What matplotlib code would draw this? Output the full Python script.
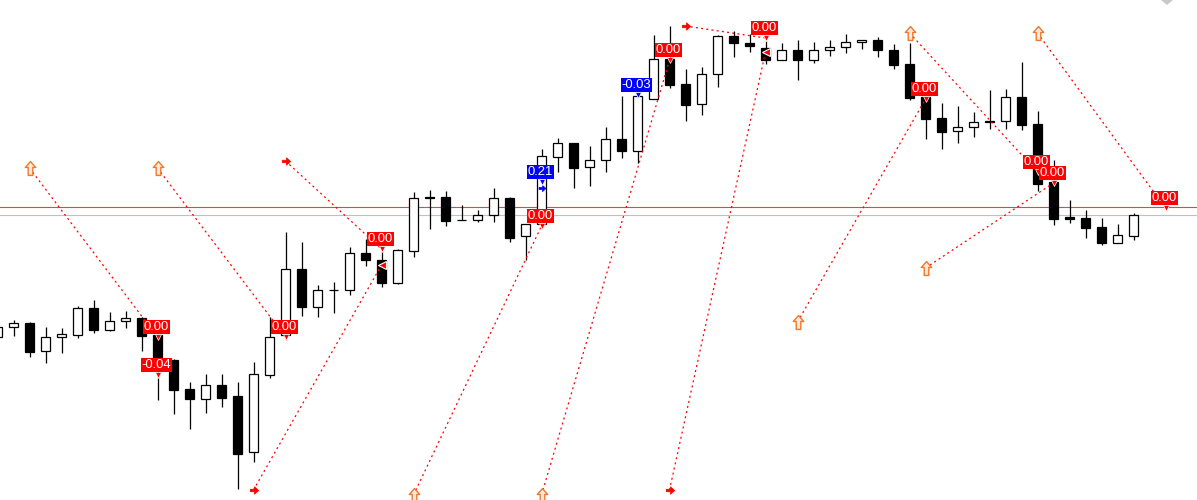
import matplotlib
matplotlib.use('Agg')
import matplotlib.pyplot as plt
from matplotlib.path import Path
from matplotlib.patches import Polygon

# ---------------- candle data (price units, arbitrary scale) ----------------
opens = [163, 172.7, 176.7, 148.7, 162.7, 165, 191.7, 170.3, 178.7, 181.7,
         164.7, 140, 110.7, 101.3, 115, 104, 47.7, 125.3, 165, 230.7,
         192.7, 209.7, 209.7, 246.7, 239.7, 217.3, 248.7, 303, 302.7, 279.7,
         279.7, 284.7, 301.7, 263.7, 276, 343, 356.7, 332.7, 339.7, 361,
         348.7, 401.3, 440.7, 416, 395.7, 425.7, 464.3, 457, 451.7, 439.7,
         449.7, 439.7, 449.7, 453, 457.7, 459.7, 449.7, 436.3, 403.3, 381.7,
         368.7, 372.7, 379.3, 378.7, 402.7, 376, 318.3, 282.7, 281.7, 273,
         257.3, 264.3]
closes = [173, 176.7, 148.3, 162.7, 165.7, 191.7, 170.3, 178.7, 181.7, 164.3,
          140, 110, 101, 115, 102.3, 46.3, 125.7, 163, 230.7, 192.7,
          209.7, 209.7, 246.7, 240.3, 217.3, 249.7, 301.7, 301.7, 279.3, 279.7,
          284.7, 301.7, 262.3, 275.7, 344, 356.7, 332.3, 339.7, 360.7, 348.7,
          404.3, 440.7, 415.3, 395.3, 426, 464, 456.7, 453.7, 439.7, 449.7,
          439.7, 449.7, 453, 457.7, 459.7, 449.7, 435.3, 402.3, 381.3, 368.3,
          372.7, 377.7, 377.7, 402.7, 375.3, 316.3, 281, 281, 272.3, 257.3,
          265, 285]
highs = [175, 180, 177.7, 172.7, 171.7, 193.7, 199.7, 187.7, 188.7, 182.7,
         165, 141, 117.7, 126, 125.7, 117.7, 137.7, 183, 267.7, 257.7,
         215, 217.7, 253, 260.7, 249, 251, 308, 309.7, 309, 295,
         289.7, 311.7, 303, 276.3, 350.7, 362, 356.7, 354, 372.7, 404,
         406, 465.3, 474, 430.7, 433.3, 465, 469, 465.7, 459.3, 456.7,
         459.7, 458, 459.7, 465.7, 459.7, 463, 455.7, 456.7, 403.3, 396.7,
         393.7, 388, 410, 411, 438, 389, 340, 300, 290, 281.7,
         276, 287.3]
lows = [160, 164.3, 142.7, 137.3, 147.3, 162, 167.3, 169.3, 171.7, 149.3,
        100, 86.3, 71, 87.3, 93.3, 10.7, 38.3, 122.3, 160, 184.3,
        183.3, 187.3, 204.7, 234.3, 213.3, 216.5, 242.7, 271.3, 274.3, 279.7,
        277.7, 278.3, 258.3, 240, 274, 328.3, 311.7, 314.3, 328.3, 341.7,
        336.7, 401, 412.3, 379.3, 385.3, 413.3, 443.3, 448, 435.7, 439.7,
        420.3, 437.3, 444.3, 446.7, 451.3, 443.3, 431.3, 400, 360.7, 350.7,
        357.3, 362.7, 371.3, 371.3, 370, 308.7, 275.3, 277, 261.7, 255.3,
        257.3, 260]

# horizontal price lines
ask_level = 293
bid_level = 285

# ---------------- trades ----------------
open_bars = [2, 10, 18, 16, 26, 34, 42, 43, 50, 57, 58, 65]
open_prices = [332, 332, 339, 10, 5, 5, 10, 474, 178, 467, 232, 467]
open_kinds = ['arrow', 'arrow', 'cross', 'cross', 'arrow', 'arrow', 'cross',
              'cross', 'arrow', 'arrow', 'arrow', 'arrow']
close_bars = [10, 18, 24, 24, 34, 42, 48, 48, 58, 65, 66, 73]
close_prices = [163, 163, 251, 235, 274, 440, 448, 462, 401, 328, 317, 292]
close_kinds = ['label', 'label', 'label', 'tri', 'label', 'label', 'tri',
               'label', 'label', 'label', 'label', 'label']

# profit labels
label_bars = [10, 18, 24, 34, 42, 48, 58, 65, 66, 73, 10, 34, 40]
label_prices = [163, 163, 251, 274, 440, 462, 401, 328, 317, 292, 125, 318, 405]
label_texts = ['0.00', '0.00', '0.00', '0.00', '0.00', '0.00', '0.00', '0.00',
               '0.00', '0.00', '-0.04', '0.21', '-0.03']
label_colors = ['#FF0000'] * 11 + ['#0000FF', '#0000FF']

# blue entry marker
blue_bars = [34]
blue_prices = [312]

# ---------------- figure ----------------
W, H = 1197, 500
fig = plt.figure(figsize=(W / 100, H / 100), dpi=100)
ax = fig.add_axes([0, 0, 1, 1])
ax.set_xlim(2.5 / 16, (W + 2.5) / 16)
ax.set_ylim(0, 500)
ax.axis('off')
fig.patch.set_facecolor('white')

ax.axhline(ask_level, color='#FF4500', lw=0.8, zorder=1)
ax.axhline(bid_level, color='#C0C0C0', lw=0.8, zorder=1)

n = len(opens)
xs = list(range(n))
ax.vlines(xs, lows, highs, color='black', lw=0.9, zorder=2)
bottoms = [min(o, c) for o, c in zip(opens, closes)]
heights = [abs(c - o) for o, c in zip(opens, closes)]
faces = ['white' if c >= o else 'black' for o, c in zip(opens, closes)]
ax.bar(xs, heights, bottom=bottoms, width=0.6, color=faces,
       edgecolor='black', linewidth=0.9, zorder=3)

# dotted trade lines
for ob, op, cb, cp in zip(open_bars, open_prices, close_bars, close_prices):
    ax.plot([ob, cb], [op, cp], color='red', lw=0.9,
            linestyle=(0, (1.6, 2.6)), zorder=4)

up_arrow = Path([(0, 1), (0.75, 0.15), (0.33, 0.15), (0.33, -1), (-0.33, -1),
                 (-0.33, 0.15), (-0.75, 0.15), (0, 1)],
                [Path.MOVETO] + [Path.LINETO] * 6 + [Path.CLOSEPOLY])
cross_arrow = Path([(-1, 0.3), (0, 0.3), (0, 0.9), (1, 0), (0, -0.9), (0, -0.3),
                    (-1, -0.3), (-1, 0.3)],
                   [Path.MOVETO] + [Path.LINETO] * 6 + [Path.CLOSEPOLY])

for b, p, k in zip(open_bars, open_prices, open_kinds):
    if k == 'arrow':
        ax.plot(b, p, marker=up_arrow, ms=10, mfc='#FFE8E0', mec='#F07828',
                mew=1.0, zorder=6)
    else:
        ax.plot(b, p, marker=cross_arrow, ms=6, mfc='red', mec='red',
                mew=0.5, zorder=6)

for b, p, k in zip(close_bars, close_prices, close_kinds):
    if k == 'tri':
        ax.plot(b, p, marker='<', ms=5.5, mfc='red', mec='white', mew=0.8,
                zorder=6)

for b, p in zip(blue_bars, blue_prices):
    ax.plot(b, p, marker=cross_arrow, ms=5, mfc='blue', mec='blue', mew=0.5,
            zorder=6)

for b, p, t, c in zip(label_bars, label_prices, label_texts, label_colors):
    ax.plot(b, p, marker='v', ms=4, mfc=c, mec='white', mew=0.5, zorder=7)
    ax.annotate(t, xy=(b, p), xytext=(-1, 4), textcoords='offset pixels',
                ha='center', va='bottom', color='white', fontsize=9.4,
                family='Liberation Sans', zorder=8,
                bbox=dict(boxstyle='square,pad=0.05', fc=c, ec='none'))

# chart-shift marker in the top-right corner
fig.patches.append(Polygon([(1161 / W, 1.0), (1173 / W, 1.0), (1167 / W, 1 - 5 / H)],
                           closed=True, transform=fig.transFigure,
                           facecolor='#C8C8C8', edgecolor='none'))

fig.savefig('out.png', dpi=100, facecolor='white')
